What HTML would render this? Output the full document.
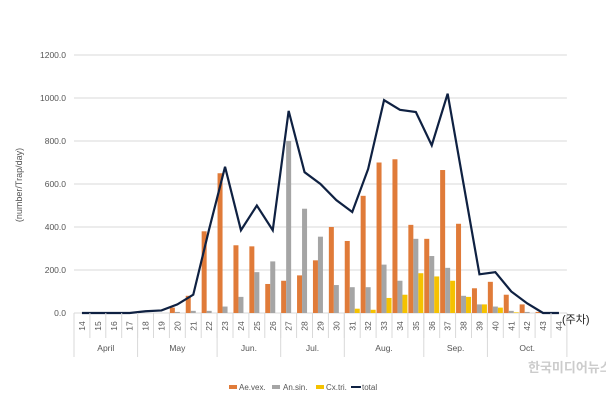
<!DOCTYPE html>
<html><head><meta charset="utf-8"><style>
body{margin:0;background:#fff;}
svg{display:block;font-family:"Liberation Sans","Noto Sans CJK KR",sans-serif;}
</style></head><body>
<svg id="c" width="606" height="400" viewBox="0 0 606 400">
<rect width="606" height="400" fill="#fff"/>
<g id="grid"></g><g id="bars"></g><g id="line"></g><g id="axis"></g>
<text x="22" y="185" transform="rotate(-90 22 185)" text-anchor="middle" font-size="9" fill="#555">(number/Trap/day)</text>
<text x="562" y="323" font-size="11" fill="#222">(주차)</text>
<g font-size="8" fill="#555">
<g><rect x="229" y="385" width="8" height="4" fill="#E07B39"/><text x="239" y="390">Ae.vex.</text></g>
<g><rect x="272" y="385" width="8" height="4" fill="#A5A5A5"/><text x="283" y="390">An.sin.</text></g>
<g><rect x="316" y="385" width="8" height="4" fill="#F5C200"/><text x="326" y="390">Cx.tri.</text></g>
<g><line x1="351" y1="387" x2="361" y2="387" stroke="#0F2142" stroke-width="2"/><text x="362" y="390">total</text></g>
</g>
<text x="528" y="372" font-size="13" font-weight="bold" fill="#ccc">한국미디어뉴스</text>
</svg>
<script>
const weeks=[14,15,16,17,18,19,20,21,22,23,24,25,26,27,28,29,30,31,32,33,34,35,36,37,38,39,40,41,42,43,44];
const aeVex=[0,0,0,0,0,0,25,80,380,650,315,310,135,150,175,245,400,335,545,700,715,410,345,665,415,115,145,85,40,5,0];
const anSin=[0,0,0,0,0,0,5,10,10,30,75,190,240,800,485,355,130,120,120,225,150,345,265,210,80,40,30,10,5,0,0];
const cxTri=[0,0,0,0,0,0,0,0,0,0,0,0,0,0,0,0,0,20,15,70,85,185,170,150,75,40,25,3,0,0,0];
const total=[0,0,0,0,8,12,40,85,390,680,385,500,385,940,655,600,525,470,670,990,945,935,780,1020,600,180,190,100,45,0,0];
const yTicks=[0,200,400,600,800,1000,1200];
const months=[["April",14,17],["May",18,22],["Jun.",23,26],["Jul.",27,30],["Aug.",31,35],["Sep.",36,39],["Oct.",40,44]];
const NS="http://www.w3.org/2000/svg";
const X0=74,CW=15.9,Y0=313,PPU=258/1200;
const y=v=>Y0-v*PPU;
const xc=i=>X0+CW*(i+0.5);
function mk(t,a,p){const e=document.createElementNS(NS,t);for(const k in a)e.setAttribute(k,a[k]);p.appendChild(e);return e;}
const grid=document.getElementById('grid'),bars=document.getElementById('bars'),ln=document.getElementById('line'),ax=document.getElementById('axis');
yTicks.forEach(v=>{
 const l=mk('line',{x1:X0,x2:X0+CW*weeks.length,y1:y(v),y2:y(v),stroke:'#d9d9d9','stroke-width':1},grid);
 
 
 const t=mk('text',{x:66,y:y(v)+3,'text-anchor':'end','font-size':8.5,fill:'#555'},grid);
 t.textContent=v.toFixed(1);
 
 
});
const series=[[aeVex,'#E07B39',-5,'bar-ae-vex'],[anSin,'#A5A5A5',0,'bar-an-sin'],[cxTri,'#F5C200',5,'bar-cx-tri']];
series.forEach(([arr,col,off,nm])=>{
 arr.forEach((v,i)=>{
  if(v<=0)return;
  const r=mk('rect',{x:xc(i)+off-2.5,y:y(v),width:5,height:Y0-y(v),fill:col},bars);
  
  
 });
});
const p=mk('polyline',{points:total.map((v,i)=>xc(i)+','+y(v)).join(' '),fill:'none',stroke:'#0F2142','stroke-width':2.2,'stroke-linejoin':'miter'},ln);


weeks.forEach((w,i)=>{
 const t=mk('text',{x:0,y:0,'font-size':8.5,fill:'#555','text-anchor':'middle',transform:`translate(${xc(i)+3},326) rotate(-90)`},ax);
 t.textContent=w;
 
 
 const s=mk('line',{x1:X0+CW*i,x2:X0+CW*i,y1:Y0,y2:338,stroke:'#d9d9d9'},ax);
 
 
});
mk('line',{x1:X0+CW*weeks.length,x2:X0+CW*weeks.length,y1:Y0,y2:357,stroke:'#d9d9d9'},ax);
months.forEach(([m,a,b])=>{
 const i0=weeks.indexOf(a),i1=weeks.indexOf(b);
 const s=mk('line',{x1:X0+CW*i0,x2:X0+CW*i0,y1:Y0,y2:357,stroke:'#d9d9d9'},ax);
 
 
 const t=mk('text',{x:(X0+CW*i0+X0+CW*(i1+1))/2,y:351,'text-anchor':'middle','font-size':8.5,fill:'#555'},ax);
 t.textContent=m;
 
 
});
</script>
</body></html>
